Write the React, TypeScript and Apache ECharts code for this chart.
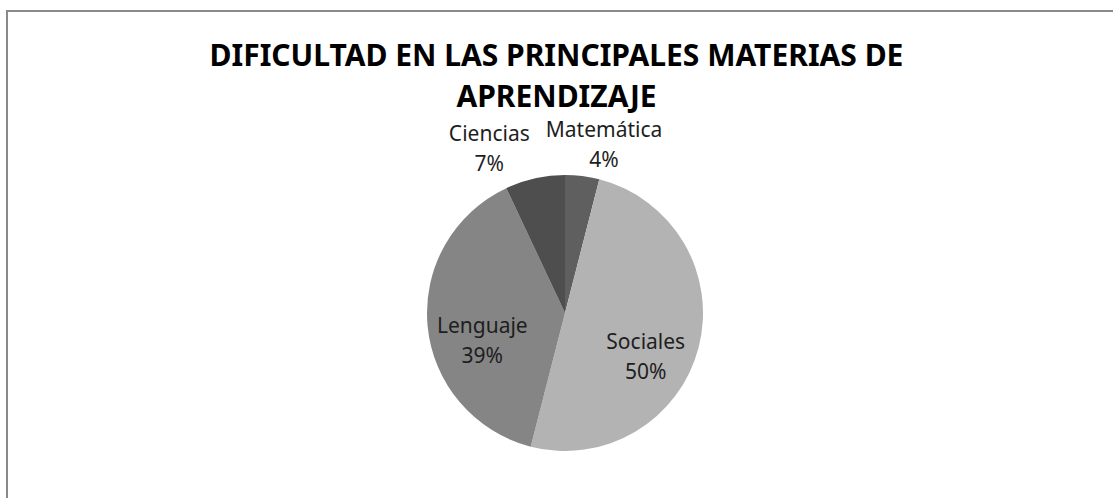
import React, { useEffect, useRef } from "react";
import * as echarts from "echarts";

const titleLines = ["DIFICULTAD EN LAS PRINCIPALES MATERIAS DE", "APRENDIZAJE"];
const categories = ["Matemática", "Sociales", "Lenguaje", "Ciencias"];
const percents = [4, 50, 39, 7];
const colors = ["#5f5f5f", "#b3b3b3", "#858585", "#4e4e4e"];
const labelOffsets: [number, number][] = [
  [30, -98],
  [11, 25],
  [-11, 20],
  [-60, -95],
];
const titleTops = [42, 83];

export default function App() {
  const ref = useRef<HTMLDivElement>(null);
  useEffect(() => {
    document.body.style.margin = "0";
    const chart = echarts.init(ref.current!, undefined, { renderer: "svg" });
    chart.setOption({
      animation: false,
      backgroundColor: "#ffffff",
      title: titleLines.map((t, i) => ({
        text: t,
        left: "center",
        top: titleTops[i],
        padding: 0,
        textStyle: {
          fontFamily: "Noto Sans",
          fontWeight: "bold",
          fontSize: 30,
          lineHeight: 24,
          color: "#000000",
        },
      })),
      graphic: [
        {
          type: "polyline",
          shape: { points: [[7, 600], [7, 11], [1200, 11]] },
          style: { stroke: "#8a8a8a", lineWidth: 2, fill: "none" },
          silent: true,
        },
      ],
      series: [
        {
          type: "pie",
          center: [565, 313],
          radius: 138,
          startAngle: 90,
          clockwise: true,
          avoidLabelOverlap: false,
          labelLine: { show: false },
          data: categories.map((name, i) => ({
            name,
            value: percents[i],
            itemStyle: { color: colors[i] },
            label: { offset: labelOffsets[i] },
          })),
          label: {
            show: true,
            position: "inside",
            formatter: (p: any) => `${p.name}\n${p.value}%`,
            fontFamily: "Noto Sans",
            fontSize: 21,
            lineHeight: 30,
            color: "#1e1e1e",
            align: "center",
          },
          emphasis: { disabled: true },
        },
      ],
    });
    return () => chart.dispose();
  }, []);
  return <div ref={ref} style={{ width: 1113, height: 498 }} />;
}
